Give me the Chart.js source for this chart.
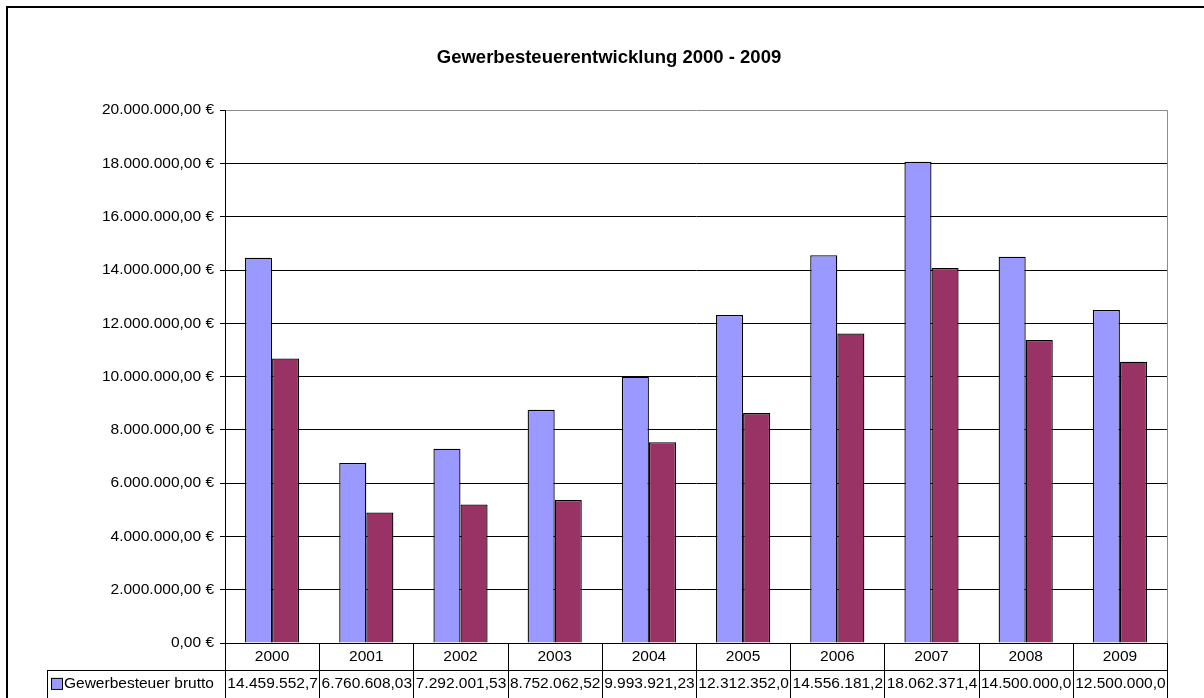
<!DOCTYPE html>
<html lang="de">
<head>
<meta charset="utf-8">
<title>Gewerbesteuerentwicklung 2000 - 2009</title>
<script src="https://cdn.jsdelivr.net/npm/chart.js@4.4.1/dist/chart.umd.min.js"></script>
<style>
    html, body { margin: 0; padding: 0; background: #fff; }
    #wrap { width: 1204px; height: 698px; overflow: hidden; }
</style>
</head>
<body>
<div id="wrap"><canvas id="grafico" width="1204" height="698"></canvas></div>
<script>
const jahre = ['2000', '2001', '2002', '2003', '2004', '2005', '2006', '2007', '2008', '2009'];
const gewerbesteuerBrutto = [14459552.7, 6760608.03, 7292001.53, 8752062.52, 9993921.23, 12312352.0, 14556181.2, 18062371.4, 14500000.0, 12500000.0];
const gewerbesteuerNetto = [10680000, 4900000, 5200000, 5370000, 7540000, 8630000, 11620000, 14080000, 11370000, 10560000];
const reihenNamen = ['Gewerbesteuer brutto', 'Gewerbesteuer netto'];
const reihenFarben = ['#9999FF', '#993366'];

const schrift = "'Liberation Sans', Arial, sans-serif";

// 1234567.5 -> "1.234.567,50"
function formatDe(wert) {
    const teile = wert.toFixed(2).split('.');
    const ganz = teile[0].replace(/\B(?=(\d{3})+(?!\d))/g, '.');
    return ganz + ',' + teile[1];
}

// Excel-Datentabelle unter dem Diagramm
const datenTabelle = {
    id: 'datenTabelle',
    afterDraw(chart) {
        const ctx = chart.ctx;
        const area = chart.chartArea;
        const n = jahre.length;
        const breite = (area.right - area.left) / n;
        const zeile = 27.4;
        const tabLinks = 47;

        ctx.save();
        ctx.strokeStyle = '#000';
        ctx.lineWidth = 1;
        ctx.font = '15.5px ' + schrift;
        ctx.fillStyle = '#000';
        ctx.textBaseline = 'middle';

        // rechter Rand des Plotbereichs (grau)
        ctx.strokeStyle = '#8c8c8c';
        ctx.beginPath();
        ctx.moveTo(Math.round(area.right) + 0.5, area.top);
        ctx.lineTo(Math.round(area.right) + 0.5, area.bottom);
        ctx.stroke();
        ctx.strokeStyle = '#000';

        // senkrechte Linien
        for (let i = 0; i <= n; i++) {
            const x = Math.round(area.left + i * breite) + 0.5;
            ctx.beginPath();
            ctx.moveTo(x, area.bottom);
            ctx.lineTo(x, area.bottom + zeile * 3);
            ctx.stroke();
        }
        ctx.beginPath();
        ctx.moveTo(tabLinks + 0.5, area.bottom + zeile);
        ctx.lineTo(tabLinks + 0.5, area.bottom + zeile * 3);
        ctx.stroke();

        // waagerechte Linien
        for (let r = 1; r <= 3; r++) {
            const y = Math.round(area.bottom + r * zeile) + 0.5;
            ctx.beginPath();
            ctx.moveTo(tabLinks, y);
            ctx.lineTo(area.right, y);
            ctx.stroke();
        }

        // Jahre
        ctx.textAlign = 'center';
        jahre.forEach((j, i) => {
            ctx.fillText(j, area.left + (i + 0.5) * breite, area.bottom + 13.5);
        });

        // Werte je Reihe
        chart.data.datasets.forEach((ds, r) => {
            const yMitte = area.bottom + zeile * (r + 1) + 13.5;
            ctx.fillStyle = ds.backgroundColor;
            ctx.fillRect(tabLinks + 4, yMitte - 6, 11, 11);
            ctx.strokeRect(tabLinks + 4.5, yMitte - 5.5, 11, 11);
            ctx.fillStyle = '#000';
            ctx.textAlign = 'left';
            ctx.fillText(ds.label, tabLinks + 17, yMitte);
            ds.data.forEach((v, i) => {
                let txt = formatDe(v);
                while (ctx.measureText(txt).width > breite - 2) {
                    txt = txt.slice(0, -1);
                }
                const w = ctx.measureText(txt).width;
                ctx.fillText(txt, area.left + i * breite + (breite - w) / 2 + 0.5, yMitte);
            });
        });

        // Rahmen des Diagrammobjekts
        ctx.lineWidth = 2;
        ctx.beginPath();
        ctx.moveTo(7, chart.height);
        ctx.lineTo(7, 7);
        ctx.lineTo(chart.width, 7);
        ctx.stroke();
        ctx.restore();
    }
};

const ctx = document.getElementById('grafico').getContext('2d');
new Chart(ctx, {
    type: 'bar',
    data: {
        labels: jahre,
        datasets: [{
            label: reihenNamen[0],
            data: gewerbesteuerBrutto,
            backgroundColor: reihenFarben[0],
            borderColor: '#000',
            borderWidth: 1.3,
            borderSkipped: 'bottom'
        }, {
            label: reihenNamen[1],
            data: gewerbesteuerNetto,
            backgroundColor: reihenFarben[1],
            borderColor: '#000',
            borderWidth: 1.3,
            borderSkipped: 'bottom'
        }]
    },
    options: {
        responsive: false,
        animation: false,
        layout: {
            padding: { left: 14, right: 0, top: 0, bottom: 55 }
        },
        datasets: {
            bar: { categoryPercentage: 0.575, barPercentage: 1.0 }
        },
        scales: {
            x: {
                grid: { display: false },
                ticks: { display: false },
                border: { color: '#000', width: 1 },
                afterFit: (scale) => { scale.height = 0; }
            },
            y: {
                min: 0,
                max: 20000000,
                ticks: {
                    stepSize: 2000000,
                    padding: 6,
                    color: '#000',
                    font: { family: schrift, size: 15.5 },
                    callback: (v) => formatDe(v) + ' €'
                },
                grid: {
                    color: (c) => (c.tick && c.tick.value === 20000000) ? '#8c8c8c' : '#000',
                    tickColor: '#000',
                    tickLength: 5
                },
                border: { color: '#000', width: 1 },
                afterFit: (scale) => { scale.width = 211; }
            },
            // leerer Platz rechts neben dem Plotbereich
            rand: {
                position: 'right',
                display: true,
                ticks: { display: false },
                grid: { display: false },
                border: { display: false },
                afterFit: (scale) => { scale.width = 37; }
            }
        },
        plugins: {
            legend: { display: false },
            tooltip: { enabled: false },
            title: {
                display: true,
                text: 'Gewerbesteuerentwicklung 2000 - 2009',
                color: '#000',
                font: { family: schrift, size: 18.5, weight: 'bold', lineHeight: 1.2 },
                padding: { top: 47, bottom: 41 }
            }
        }
    },
    plugins: [datenTabelle]
});
</script>
</body>
</html>
